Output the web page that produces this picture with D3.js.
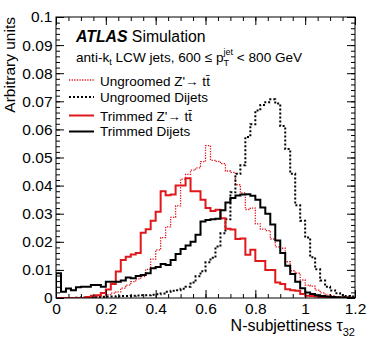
<!DOCTYPE html>
<html><head><meta charset="utf-8">
<script src="https://cdn.jsdelivr.net/npm/d3@7"></script>
<style>
body{margin:0;background:#fff}
svg{display:block}
text{font-family:"Liberation Sans",Arial,Helvetica,sans-serif;fill:#000}
</style>
</head><body>
<svg id="c" width="374" height="355"></svg>
<script>
// ---- data (60 bins of width 0.02 over tau32 in [0,1.2]) ----
const binWidth = 0.02;
const trimmedZp = [0,0,0,0,0,0,0.0004,0.0008,0.0010,0.0018,
  0.0030,0.0050,0.0094,0.0135,0.0147,0.0155,0.0160,0.0232,0.0245,0.0275,
  0.0307,0.0380,0.0366,0.0368,0.0400,0.0400,0.0426,0.0380,0.0380,0.0350,
  0.0320,0.0310,0.0314,0.0284,0.0246,0.0244,0.0210,0.0212,0.0154,0.0172,
  0.0132,0.0132,0.0100,0.0100,0.0055,0.0050,0.0031,0.0028,0.0026,0.0014,
  0.0008,0.0007,0.0005,0.0004,0.0003,0.0003,0.0002,0.0001,0.0001,0.0001];
const trimmedDijets = [0.0088,0.0022,0.0034,0.0028,0.0038,0.0040,0.0040,0.0046,0.0046,0.0040,
  0.0058,0.0058,0.0058,0.0062,0.0073,0.0070,0.0078,0.0082,0.0088,0.0106,
  0.0110,0.0121,0.0117,0.0135,0.0157,0.0174,0.0187,0.0200,0.0225,0.0272,
  0.0278,0.0280,0.0282,0.0312,0.0340,0.0356,0.0365,0.0368,0.0369,0.0364,
  0.0350,0.0322,0.0300,0.0262,0.0205,0.0160,0.0115,0.0085,0.0058,0.0035,
  0.0020,0.0014,0.0010,0.0007,0.0005,0.0004,0.0003,0.0002,0.0002,0.0001];
const ungroomedZp = [0,0,0,0,0,0,0,0.0002,0.0004,0.0007,
  0.0012,0.0017,0.0022,0.0035,0.0046,0.0058,0.0068,0.0076,0.0102,0.0138,
  0.0171,0.0215,0.0253,0.0287,0.0328,0.0423,0.0440,0.0455,0.0463,0.0485,
  0.0542,0.0490,0.0486,0.0478,0.0452,0.0447,0.0403,0.0374,0.0315,0.0320,
  0.0264,0.0245,0.0240,0.0210,0.0182,0.0177,0.0129,0.0097,0.0088,0.0064,
  0.0046,0.0042,0.0028,0.0018,0.0011,0.0008,0.0005,0.0003,0.0002,0.0001];
const ungroomedDijets = [0,0,0,0,0.0001,0.0002,0.0003,0.0003,0.0004,0.0004,
  0.0005,0.0005,0.0006,0.0007,0.0007,0.0008,0.0009,0.0010,0.0010,0.0012,
  0.0013,0.0016,0.0022,0.0026,0.0028,0.0033,0.0040,0.0055,0.0077,0.0095,
  0.0127,0.0143,0.0183,0.0230,0.0280,0.0376,0.0442,0.0472,0.0573,0.0618,
  0.0667,0.0687,0.0697,0.0707,0.0692,0.0612,0.0530,0.0442,0.0330,0.0275,
  0.0215,0.0145,0.0102,0.0062,0.0040,0.0027,0.0017,0.0011,0.0007,0.0005];

const xTickValues = [0,0.2,0.4,0.6,0.8,1.0,1.2];
const xTickLabels = ["0","0.2","0.4","0.6","0.8","1","1.2"];
const yTickValues = [0,0.01,0.02,0.03,0.04,0.05,0.06,0.07,0.08,0.09,0.1];
const yTickLabels = ["0","0.01","0.02","0.03","0.04","0.05","0.06","0.07","0.08","0.09","0.1"];

const seriesNames = ["Ungroomed Z'\u2192 t", "Ungroomed Dijets", "Trimmed Z'\u2192 t", "Trimmed Dijets"];

// ---- layout ----
const L = 56, R = 355, T = 17, B = 298;
const RED = "#e0181c";
const svg = d3.select("#c");
const x = d3.scaleLinear().domain([0,1.2]).range([L,R]);
const y = d3.scaleLinear().domain([0,0.1]).range([B,T]);
const FS = 15.5;

// histograms
svg.append("clipPath").attr("id","pc").append("rect")
  .attr("x",L).attr("y",T-2).attr("width",R-L).attr("height",B-T+2);

function stepPath(vals){
  let p = `M${x(0)},${y(0)}`;
  vals.forEach((v,i)=>{ p += `V${y(v)}H${x((i+1)*binWidth)}`; });
  p += `V${y(0)}`;
  return p;
}
const hg = svg.append("g").attr("clip-path","url(#pc)");
const styles = [
  {data: ungroomedZp, color: RED, w: 1.3, dash: "1.3,1.3"},
  {data: ungroomedDijets, color: "#000", w: 2, dash: "2,2"},
  {data: trimmedZp, color: RED, w: 2, dash: null},
  {data: trimmedDijets, color: "#000", w: 2, dash: null}
];
styles.forEach(s=>{
  hg.append("path").attr("d", stepPath(s.data)).attr("fill","none")
    .attr("stroke", s.color).attr("stroke-width", s.w)
    .attr("stroke-dasharray", s.dash).attr("stroke-linejoin","miter");
});

// axes (ticks inside, mirrored)
function styleAxis(g){ g.select(".domain").remove(); g.selectAll("line").attr("stroke","#000").attr("stroke-width",1); }
const xMinor = d3.range(0, 1.2001, 0.05);
const yMinor = d3.range(0, 0.10001, 0.002);
svg.append("g").attr("transform",`translate(0,${B})`)
  .call(d3.axisBottom(x).tickValues(xMinor).tickSize(-4).tickFormat(""))
  .call(styleAxis).selectAll("text").remove();
svg.append("g").attr("transform",`translate(0,${B})`)
  .call(d3.axisBottom(x).tickValues(xTickValues).tickSize(-8).tickPadding(4.5)
    .tickFormat((d,i)=>xTickLabels[i]))
  .call(styleAxis)
  .selectAll("text").attr("font-size",FS).attr("font-family",null).attr("fill","#000");
svg.append("g").attr("transform",`translate(0,${T})`)
  .call(d3.axisTop(x).tickValues(xMinor).tickSize(-4).tickFormat(""))
  .call(styleAxis).selectAll("text").remove();
svg.append("g").attr("transform",`translate(0,${T})`)
  .call(d3.axisTop(x).tickValues(xTickValues).tickSize(-8).tickFormat(""))
  .call(styleAxis).selectAll("text").remove();

svg.append("g").attr("transform",`translate(${L},0)`)
  .call(d3.axisLeft(y).tickValues(yMinor).tickSize(-4).tickFormat(""))
  .call(styleAxis).selectAll("text").remove();
svg.append("g").attr("transform",`translate(${L},0)`)
  .call(d3.axisLeft(y).tickValues(yTickValues).tickSize(-8).tickPadding(3.5)
    .tickFormat((d,i)=>yTickLabels[i]))
  .call(styleAxis)
  .selectAll("text").attr("font-size",FS).attr("font-family",null).attr("fill","#000");
svg.append("g").attr("transform",`translate(${R},0)`)
  .call(d3.axisRight(y).tickValues(yMinor).tickSize(-4).tickFormat(""))
  .call(styleAxis).selectAll("text").remove();
svg.append("g").attr("transform",`translate(${R},0)`)
  .call(d3.axisRight(y).tickValues(yTickValues).tickSize(-8).tickFormat(""))
  .call(styleAxis).selectAll("text").remove();

svg.append("rect").attr("x",L).attr("y",T).attr("width",R-L).attr("height",B-T)
  .attr("fill","none").attr("stroke","#000").attr("stroke-width",1);

// axis titles
svg.append("text").attr("transform",`translate(15,${T}) rotate(-90)`)
  .attr("text-anchor","end").attr("font-size",FS).text("Arbitrary units");

// rich text helper
function rich(x0, y0, parts){
  let cx = x0;
  parts.forEach(p=>{
    if (p.stack){
      const a = svg.append("text").attr("x",cx).attr("y",y0+p.sup.dy).attr("font-size",p.sup.size).text(p.sup.t);
      const b = svg.append("text").attr("x",cx).attr("y",y0+p.sub.dy).attr("font-size",p.sub.size).text(p.sub.t);
      cx += Math.max(a.node().getComputedTextLength(), b.node().getComputedTextLength());
    } else {
      const t = svg.append("text").attr("x",cx).attr("y",y0+(p.dy||0)).attr("font-size",p.size)
        .attr("font-weight",p.weight||null).attr("font-style",p.style||null)
        .style("white-space","pre").text(p.t);
      cx += t.node().getComputedTextLength();
    }
  });
  return cx;
}
// x-axis title right aligned at R
{
  const XF = 16;
  const tmp = svg.append("g");
  const w1 = tmp.append("text").attr("font-size",XF).style("white-space","pre").text("N-subjettiness \u03c4").node().getComputedTextLength();
  const w2 = tmp.append("text").attr("font-size",11).text("32").node().getComputedTextLength();
  tmp.remove();
  rich(R - w1 - w2, 331, [{t:"N-subjettiness \u03c4", size:XF},{t:"32", size:11, dy:4.5}]);
}

// ATLAS label
rich(76, 42, [{t:"ATLAS", size:15.8, weight:"bold", style:"italic"},{t:" Simulation", size:15.8}]);
rich(76, 62, [{t:"anti-k", size:13.6},{t:"t", size:9, dy:3},
  {t:" LCW jets, 600 \u2264 p", size:13.6},
  {stack:true, sup:{t:"jet", size:9, dy:-7}, sub:{t:"T", size:9, dy:3.5}},
  {t:" < 800 GeV", size:13.6}]);

// legend
const legY = [80, 97, 115.5, 131.5];
const legBase = [85.5, 101.5, 120.5, 136];
styles.forEach((s,i)=>{
  svg.append("line").attr("x1",69).attr("x2",94).attr("y1",legY[i]).attr("y2",legY[i])
    .attr("stroke",s.color).attr("stroke-width",s.w).attr("stroke-dasharray",s.dash);
  if (i===0 || i===2){
    rich(100, legBase[i], [{t:seriesNames[i], size:13.5},{t:"t\u0304", size:13.5}]);
  } else {
    rich(100, legBase[i], [{t:seriesNames[i], size:13.5}]);
  }
});
</script>
</body></html>
